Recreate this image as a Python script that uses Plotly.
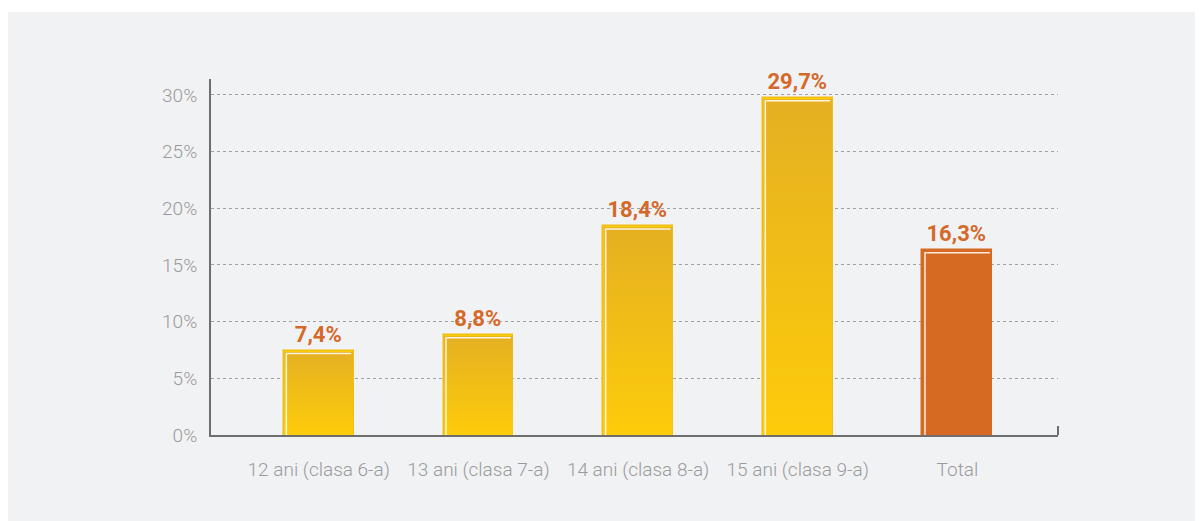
import plotly.graph_objects as go

categories = ["12 ani (clasa 6-a)", "13 ani (clasa 7-a)", "14 ani (clasa 8-a)", "15 ani (clasa 9-a)", "Total"]
values = [7.4, 8.8, 18.4, 29.7, 16.3]
labels = ["7,4%", "8,8%", "18,4%", "29,7%", "16,3%"]
ytick_vals = [0, 5, 10, 15, 20, 25, 30]
ytick_text = ["0%", "5%", "10%", "15%", "20%", "25%", "30%"]

YELLOW_TOP = "#E5B022"
YELLOW_BOT = "#FDCC0A"
ORANGE = "#D66A22"
LABEL_COLOR = "#D4692A"

BAR_W = 0.4375
YMAX = 31.4

fig = go.Figure()
xs = list(range(len(categories)))
bar_colors = [YELLOW_BOT if c != "Total" else ORANGE for c in categories]
line_colors = ["#F2BE12" if c != "Total" else ORANGE for c in categories]

fig.add_trace(go.Bar(
    x=xs, y=values, width=BAR_W,
    marker=dict(color=bar_colors, line=dict(color=line_colors, width=1.5)),
    text=labels, textposition="outside", cliponaxis=False,
    textfont=dict(family="Roboto", size=22, color=LABEL_COLOR, weight=700),
    showlegend=False, hoverinfo="x+y",
))

# gradient overlay and inner highlight for each bar
dx = 2.5 / 160.0
dy = 2.5 / (356.0 / YMAX)
for i, v in enumerate(values):
    x0, x1 = i - BAR_W / 2, i + BAR_W / 2
    if categories[i] != "Total":
        fig.add_trace(go.Scatter(
            x=[x0 + 0.004, x0 + 0.004, x1 - 0.004, x1 - 0.004, x0 + 0.004],
            y=[0, v - 0.08, v - 0.08, 0, 0],
            mode="lines", line=dict(width=0), fill="toself",
            fillgradient=dict(type="vertical", colorscale=[[0, YELLOW_BOT], [1, YELLOW_TOP]]),
            showlegend=False, hoverinfo="skip",
        ))
    fig.add_trace(go.Scatter(
        x=[x0 + dx, x0 + dx, x1 - dx],
        y=[0, v - dy, v - dy],
        mode="lines", line=dict(color="rgba(255,255,255,0.85)", width=1.5),
        showlegend=False, hoverinfo="skip",
    ))

tickfont = dict(family="Roboto", size=19, color="#9A9A9A", weight=300)

fig.update_layout(
    width=1203, height=521,
    margin=dict(l=203, r=153, t=71, b=94),
    paper_bgcolor="white", plot_bgcolor="rgba(0,0,0,0)",
    font=dict(family="Roboto"),
    bargap=0,
    xaxis=dict(
        range=[-0.675, 4.63], tickmode="array", tickvals=xs, ticktext=categories,
        tickfont=tickfont, showgrid=False, zeroline=False,
        showline=True, linecolor="#6E6E6E", linewidth=2, ticks="",
        ticklabelstandoff=16, fixedrange=True,
    ),
    yaxis=dict(
        range=[0, YMAX], tickmode="array", tickvals=ytick_vals, ticktext=ytick_text,
        tickfont=tickfont, showgrid=True, gridcolor="#A0A0A0", gridwidth=1,
        griddash="3px,3px", zeroline=False,
        showline=True, linecolor="#6E6E6E", linewidth=2, ticks="",
        ticklabelstandoff=8, fixedrange=True,
    ),
    shapes=[
        dict(type="rect", xref="paper", yref="paper",
             x0=-0.25, x1=1.25, y0=-0.35, y1=1.188,
             fillcolor="#F1F2F4", line=dict(width=0), layer="below"),
        dict(type="line", xref="paper", yref="paper",
             x0=1, x1=1, y0=0, y1=0.025,
             line=dict(color="#6E6E6E", width=2)),
    ],
)

fig.write_html("out.html")
